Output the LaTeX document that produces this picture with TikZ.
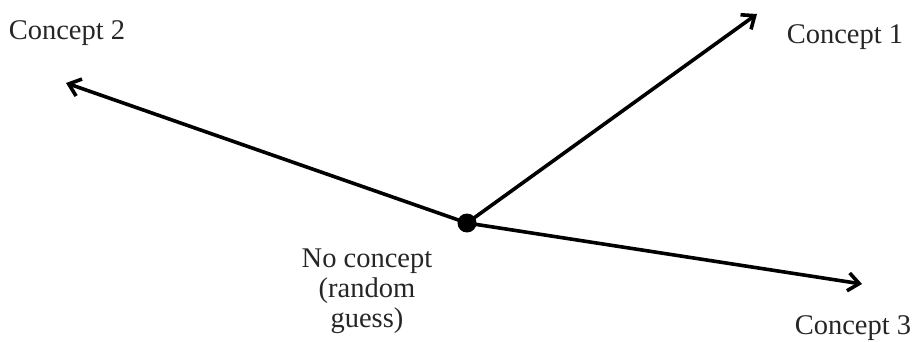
\documentclass[tikz,border=0pt]{standalone}
\usepackage{fontspec}
\setmainfont{Liberation Serif}
\usetikzlibrary{arrows.meta}
\begin{document}
\begin{tikzpicture}[x=1pt,y=-1pt,
  vec/.style={line width=3.6pt,-{Straight Barb[length=11pt,width=18pt,line width=3.6pt]}},
  lbl/.style={font=\fontsize{28.5}{30}\selectfont,text=black!85,inner sep=0pt,align=center}]
\useasboundingbox (0,0) rectangle (913,342);
\node[circle,fill=black,minimum size=19pt,inner sep=0pt] (o) at (467,223) {};
\coordinate (c1) at (757,14);
\coordinate (c2) at (66,83);
\coordinate (c3) at (862,284);
\draw[vec] (o.center) -- (c1);
\draw[vec] (o.center) -- (c2);
\draw[vec] (o.center) -- (c3);
\node[lbl] (l1) at (845,37) {Concept 1};
\node[lbl] (l2) at (67,33) {Concept 2};
\node[lbl] (l3) at (853,328) {Concept 3};
\node[lbl] (l0) at (367,291) {No concept\\(random\\guess)};
\end{tikzpicture}
\end{document}
